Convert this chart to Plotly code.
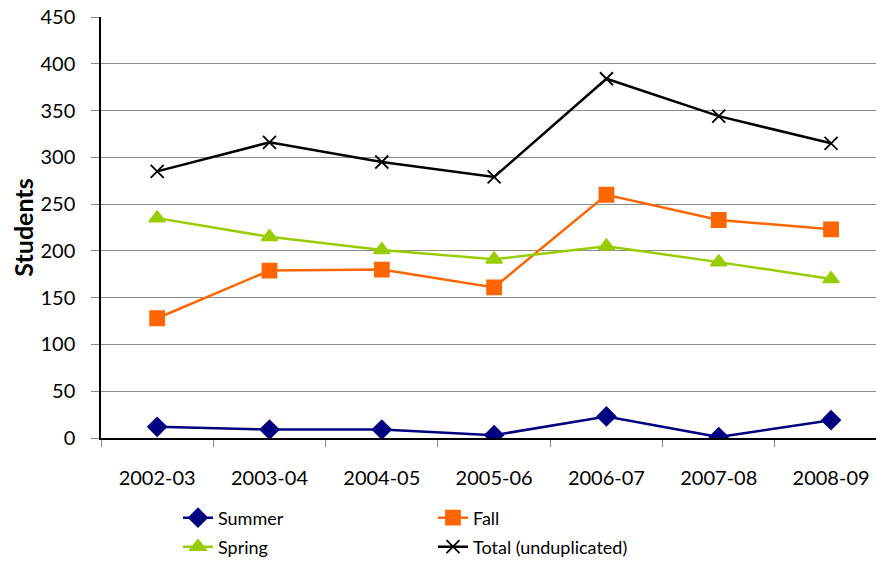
import plotly.graph_objects as go

years = ['2002-03', '2003-04', '2004-05', '2005-06', '2006-07', '2007-08', '2008-09']
summer = [12, 9, 9, 3, 23, 1, 19]
fall = [128, 179, 180, 161, 260, 233, 223]
spring = [235, 215, 201, 191, 205, 188, 170]
total = [285, 316, 295, 279, 384, 344, 315]

FONT = 'Lato, Carlito, Calibri, sans-serif'
W, H = 868, 550  # page has an 8px body margin, keep the figure inside the window

series = [
    ('Summer', summer, '#000080', 'diamond', 14, 'legend'),
    ('Fall', fall, '#FF6600', 'square', 14, 'legend'),
    ('Spring', spring, '#99CC00', 'triangle-up', 14, 'legend2'),
    ('Total (unduplicated)', total, '#000000', 'x-thin', 13, 'legend2'),
]

fig = go.Figure()
for name, vals, col, sym, size, leg in series:
    fig.add_trace(go.Scatter(
        x=years, y=vals, name=name, mode='lines+markers',
        line={'color': col, 'width': 2.5},
        marker={'symbol': sym, 'size': size, 'color': col,
                'line': {'color': col, 'width': 1.8}},
        legend=leg))

legend_style = dict(orientation='h', xref='container', yref='container',
                    xanchor='left', yanchor='middle', entrywidth=210,
                    font={'family': FONT, 'size': 18, 'color': '#000'},
                    bgcolor='rgba(0,0,0,0)')

fig.update_layout(
    width=W, height=H,
    paper_bgcolor='white', plot_bgcolor='white',
    font={'family': FONT, 'size': 20, 'color': '#000'},
    margin={'l': 93, 'r': 0, 't': 9, 'b': 120},
    legend=dict(x=170 / W, y=1 - 510 / H, **legend_style),
    legend2=dict(x=170 / W, y=1 - 539 / H, **legend_style),
)
fig.update_xaxes(
    type='category', range=[-0.5, 6.4], automargin=False,
    showline=True, linecolor='#000', linewidth=1.5,
    ticks='outside', tickson='boundaries', ticklen=7, tickcolor='#888',
    ticklabelstandoff=21, showgrid=False,
)
fig.update_yaxes(
    range=[0, 450], dtick=50, automargin=False, ticklabeloverflow='allow',
    showline=True, linecolor='#000', linewidth=1.5,
    ticks='outside', ticklen=8, tickcolor='#888',
    ticklabelstandoff=12,
    showgrid=True, gridcolor='#8c8c8c', gridwidth=1.2,
    zeroline=False,
    title={'text': '<b>Students</b>', 'font': {'family': FONT, 'size': 25}, 'standoff': 15},
)

fig.write_html("out.html")
